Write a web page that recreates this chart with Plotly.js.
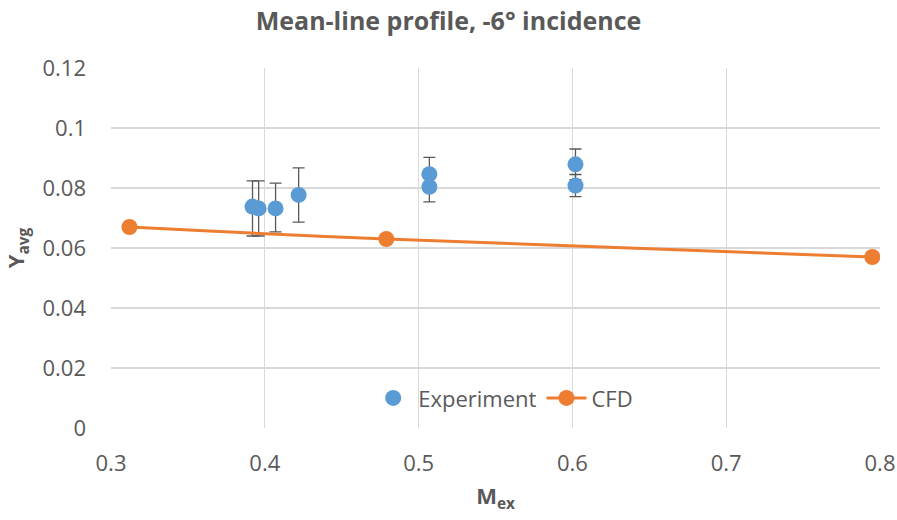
<!DOCTYPE html>
<html>
<head>
<meta charset="utf-8">
<script src="https://cdn.plot.ly/plotly-3.0.1.min.js"></script>
<style>
  html, body { margin: 0; padding: 0; background: #fff; }
  #chart { width: 897px; height: 520px; }
</style>
</head>
<body>
<div id="chart"></div>
<script>
// Experimental loss coefficient vs exit Mach number
const expMach = [0.392, 0.396, 0.407, 0.422, 0.507, 0.507, 0.602, 0.602];
const expY    = [0.0738, 0.0732, 0.0732, 0.0777, 0.0846, 0.0804, 0.0879, 0.0808];
const expErrUp   = [0.0086, 0.0092, 0.0084, 0.0090, 0.0056, 0.0050, 0.0051, 0.0037];
const expErrDown = [0.0098, 0.0092, 0.0078, 0.0091, 0.0056, 0.0050, 0.0051, 0.0037];

// CFD predictions
const cfdMach = [0.312, 0.479, 0.795];
const cfdY    = [0.067, 0.063, 0.057];

const xTicks = [0.3, 0.4, 0.5, 0.6, 0.7, 0.8];
const yTicks = [0, 0.02, 0.04, 0.06, 0.08, 0.1, 0.12];

const FONT = '"Open Sans", "Liberation Sans", sans-serif';
const GREY = '#595959';

const traces = [
  {
    name: 'Experiment',
    x: expMach, y: expY,
    type: 'scatter', mode: 'markers',
    marker: { color: '#5B9BD5', size: 16 },
    error_y: {
      type: 'data', symmetric: false,
      array: expErrUp, arrayminus: expErrDown,
      color: '#595959', thickness: 1.3, width: 6
    }
  },
  {
    name: 'CFD',
    x: cfdMach, y: cfdY,
    type: 'scatter', mode: 'lines+markers',
    line: { color: '#ED7D31', width: 3, shape: 'spline', smoothing: 1.3 },
    marker: { color: '#ED7D31', size: 16 }
  }
];

const layout = {
  width: 897, height: 520,
  paper_bgcolor: '#fff', plot_bgcolor: '#fff',
  margin: { l: 111, r: 17, t: 68, b: 92 },
  font: { family: FONT, color: GREY, size: 22 },
  title: {
    text: '<b>Mean-line profile, -6° incidence</b>',
    font: { family: FONT, size: 25, color: GREY },
    x: 0.5, xanchor: 'center', y: 0.96, yanchor: 'middle'
  },
  xaxis: {
    range: [0.3, 0.8],
    tickvals: xTicks,
    ticktext: xTicks.map(v => String(v)),
    showgrid: true, gridcolor: '#D9D9D9', gridwidth: 1.3,
    zeroline: false, showline: false, ticks: '',
    tickfont: { size: 22, color: GREY },
    ticklabelstandoff: 20,
    title: { text: '<b>M<sub>ex</sub></b>', font: { size: 22, color: GREY }, standoff: 12 }
  },
  yaxis: {
    range: [0, 0.12],
    tickvals: yTicks,
    ticktext: yTicks.map(v => String(v)),
    showgrid: true, gridcolor: '#D9D9D9', gridwidth: 1.3,
    zeroline: false, showline: false, ticks: '',
    tickfont: { size: 22, color: GREY },
    ticklabelstandoff: 24,
    title: { text: '<b>Y<sub>avg</sub></b>', font: { size: 22, color: GREY }, standoff: 14 }
  },
  legend: {
    orientation: 'h',
    x: 0.51, xanchor: 'center',
    y: 0.083, yanchor: 'middle',
    bgcolor: 'rgba(255,255,255,0)',
    font: { size: 22, color: GREY },
    itemwidth: 40,
    traceorder: 'normal'
  },
  showlegend: true
};

Plotly.newPlot('chart', traces, layout, { displayModeBar: false, staticPlot: true });
</script>
</body>
</html>
